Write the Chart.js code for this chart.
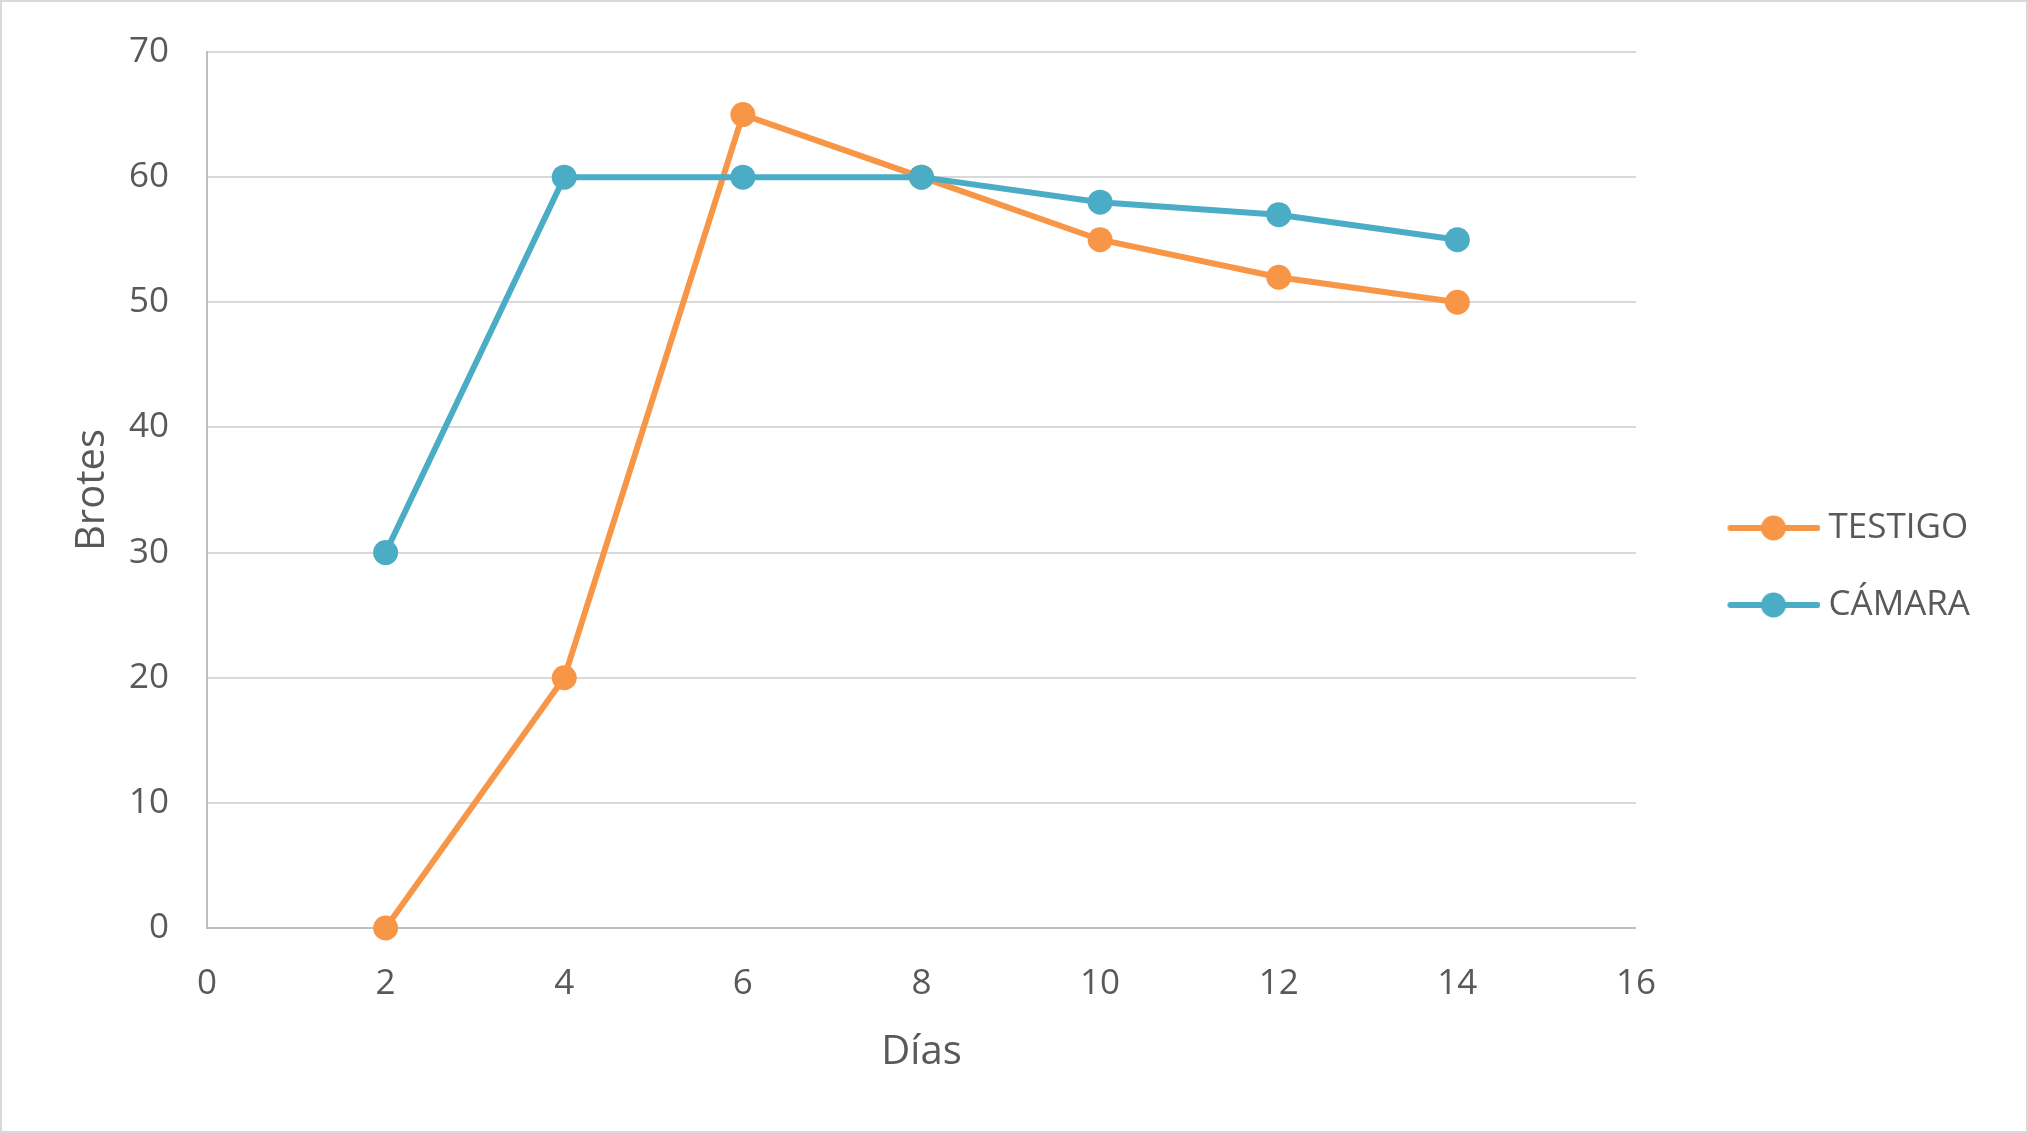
<!DOCTYPE html>
<html>
<head>
<meta charset="utf-8">
<script src="https://cdn.jsdelivr.net/npm/chart.js@4"></script>
<style>
  html, body { margin: 0; padding: 0; background: #fff; }
  canvas { display: block; }
</style>
</head>
<body>
<canvas id="brotesChart" width="2028" height="1133"></canvas>
<script>
const dias = [2, 4, 6, 8, 10, 12, 14];
const testigo = [0, 20, 65, 60, 55, 52, 50];
const camara = [30, 60, 60, 60, 58, 57, 55];
const seriesNames = ['TESTIGO', 'CÁMARA'];
const seriesColors = ['#F79646', '#4BACC6'];

const textColor = '#595959';
const fontFamily = '"Open Sans", "Noto Sans", sans-serif';

// legend marker: line with a dot, like Excel
function legendMarker(color) {
    const c = document.createElement('canvas');
    c.width = 152;
    c.height = 28;
    const g = c.getContext('2d');
    g.strokeStyle = color;
    g.lineWidth = 6;
    g.lineCap = 'round';
    g.beginPath();
    g.moveTo(62, 14);
    g.lineTo(149, 14);
    g.stroke();
    g.fillStyle = color;
    g.beginPath();
    g.arc(105, 14, 12.5, 0, Math.PI * 2);
    g.fill();
    return c;
}
const markers = seriesColors.map(legendMarker);

const frame = {
    id: 'frame',
    beforeDraw(chart) {
        const ctx = chart.ctx;
        ctx.save();
        ctx.fillStyle = '#fff';
        ctx.fillRect(0, 0, chart.width, chart.height);
        ctx.strokeStyle = '#D9D9D9';
        ctx.lineWidth = 2;
        ctx.strokeRect(1, 1, chart.width - 2, chart.height - 2);
        ctx.restore();
    }
};

const toPoints = (ys) => dias.map((d, i) => ({x: d, y: ys[i]}));

const padTop = 52, padBottom = 52, padLeft = 65;

new Chart(document.getElementById('brotesChart'), {
    type: 'line',
    data: {
        datasets: [{
            label: seriesNames[0],
            data: toPoints(testigo),
            borderColor: seriesColors[0],
            backgroundColor: seriesColors[0],
            borderWidth: 6,
            pointRadius: 12.5,
            pointBorderWidth: 0,
            clip: false,
            order: 2,
        }, {
            label: seriesNames[1],
            data: toPoints(camara),
            borderColor: seriesColors[1],
            backgroundColor: seriesColors[1],
            borderWidth: 6,
            pointRadius: 12.5,
            pointBorderWidth: 0,
            clip: false,
            order: 1,
        }]
    },
    options: {
        responsive: false,
        animation: false,
        devicePixelRatio: 1,
        layout: {
            autoPadding: false,
            padding: {top: padTop, right: 48, bottom: padBottom, left: padLeft}
        },
        plugins: {
            tooltip: {enabled: false},
            legend: {
                position: 'right',
                align: 'center',
                labels: {
                    usePointStyle: true,
                    pointStyleWidth: 133,
                    padding: 42,
                    color: textColor,
                    font: {family: fontFamily, size: 35},
                    sort: (a, b) => a.datasetIndex - b.datasetIndex,
                    generateLabels(chart) {
                        const items = Chart.defaults.plugins.legend.labels.generateLabels(chart);
                        items.forEach((it) => { it.pointStyle = markers[it.datasetIndex]; });
                        return items;
                    }
                }
            }
        },
        scales: {
            x: {
                type: 'linear',
                min: 0,
                max: 16,
                afterFit(scale) { scale.height = 1133 - 928 - padBottom; },
                ticks: {
                    stepSize: 2,
                    padding: 35,
                    color: textColor,
                    font: {family: fontFamily, size: 35}
                },
                grid: {display: false, drawTicks: false},
                border: {color: '#BFBFBF', width: 2},
                title: {
                    display: true,
                    text: 'Días',
                    color: textColor,
                    font: {family: fontFamily, size: 40},
                    padding: {top: 12}
                }
            },
            y: {
                min: 0,
                max: 70,
                afterFit(scale) { scale.width = 207 - padLeft; },
                ticks: {
                    stepSize: 10,
                    padding: 0,
                    color: textColor,
                    font: {family: fontFamily, size: 35}
                },
                grid: {
                    color: '#D9D9D9',
                    lineWidth: 2,
                    drawTicks: true,
                    tickLength: 38,
                    tickColor: 'rgba(0,0,0,0)'
                },
                border: {color: '#BFBFBF', width: 2},
                title: {
                    display: true,
                    text: 'Brotes',
                    color: textColor,
                    font: {family: fontFamily, size: 40},
                    padding: {bottom: 0}
                }
            }
        }
    },
    plugins: [frame]
});
</script>
</body>
</html>
